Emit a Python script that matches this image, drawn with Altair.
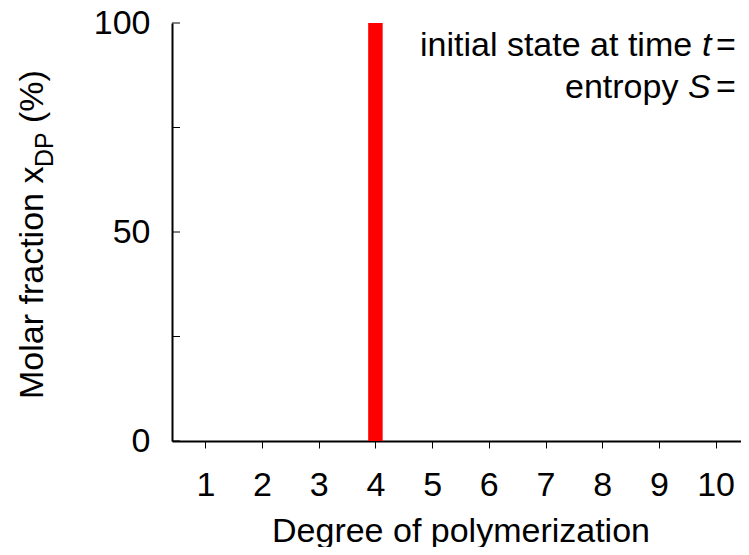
import altair as alt
import pandas as pd

# ---- data ----
dp = [1, 2, 3, 4, 5, 6, 7, 8, 9, 10]
fraction = [0, 0, 0, 100, 0, 0, 0, 0, 0, 0]
y_tick_values = [0, 25, 50, 75, 100]
y_label_values = [0, 50, 100]
x_title = "Degree of polymerization"
y_title_main = "Molar fraction x"
y_title_sub = "DP"
y_title_unit = "(%)"
note_line1 = ["initial state at time", "t", "= 0"]
note_line2 = ["entropy", "S", "= 0"]

FONT = "Liberation Sans"
FS = 34
W, H = 569, 418

df = pd.DataFrame({"dp": dp, "fraction": fraction})
ticks_df = pd.DataFrame({"v": y_tick_values})
one = pd.DataFrame({"k": [0]})

# the reference's x axis runs past the right edge of the picture
x_scale = alt.Scale(domain=[0.5, 10.36], nice=False, zero=False)
y_scale = alt.Scale(domain=[0, 100], nice=False)

y_axis = alt.Axis(
    values=y_label_values, grid=False, title=None,
    tickSize=0, domainColor="black", domainWidth=2,
    labelFont=FONT, labelFontSize=FS, labelColor="black",
    labelPadding=22, labelBaseline="middle",
)

bars = alt.Chart(df).mark_bar(color="#ff0000", size=14.5).encode(
    x=alt.X(
        "dp:Q",
        scale=x_scale,
        axis=alt.Axis(
            values=dp, format="d", grid=False,
            tickSize=7, tickColor="black", tickWidth=1,
            domainColor="black", domainWidth=2,
            labelFont=FONT, labelFontSize=FS, labelColor="black",
            labelBaseline="alphabetic", labelPadding=47, labelFlush=False,
            title=x_title, titleFont=FONT, titleFontSize=FS,
            titleFontWeight="normal", titleColor="black",
            titleBaseline="alphabetic", titleAlign="center",
            titleX=288.5, titleY=100,
        ),
    ),
    y=alt.Y("fraction:Q", scale=y_scale, stack=None, axis=y_axis),
)

# inward-pointing y ticks
yticks = alt.Chart(ticks_df).mark_rule(color="black", strokeWidth=1).encode(
    y=alt.Y("v:Q", scale=y_scale, axis=y_axis),
    x=alt.value(0),
    x2=alt.value(8),
)


def txt(s, x, y, size=FS, style="normal", angle=0, align="left"):
    return alt.Chart(one).mark_text(
        font=FONT, fontSize=size, fontStyle=style, color="black",
        align=align, baseline="alphabetic", angle=angle,
    ).encode(x=alt.value(x), y=alt.value(y), text=alt.value(s))


layers = [
    bars,
    yticks,
    # rotated y title with subscript
    txt(y_title_main, -129, 376, angle=270),
    txt(y_title_sub, -119, 144, size=25, angle=270),
    txt(y_title_unit, -129, 100, angle=270),
    # annotation (cut at right edge as in the reference)
    txt(note_line1[0], 248, 33),
    txt(note_line1[1], 530, 33, style="italic"),
    txt(note_line1[2], 544, 33),
    txt(note_line2[0], 393, 75),
    txt(note_line2[1], 516, 75, style="italic"),
    txt(note_line2[2], 544, 75),
]

chart = alt.layer(*layers).properties(
    width=W, height=H,
    autosize=alt.AutoSizeParams(type="none"),
    padding={"left": 164, "top": 15, "right": 0, "bottom": 106},
).configure_view(stroke=None)

chart.save("out.html", embed_options={"renderer": "svg", "actions": False})
